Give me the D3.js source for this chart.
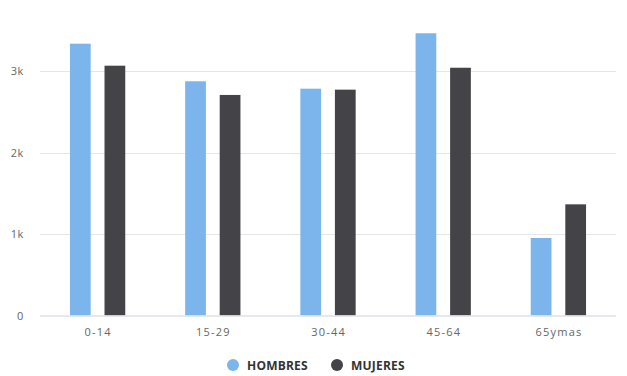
<!DOCTYPE html>
<html><head><meta charset="utf-8">
<script src="https://cdn.jsdelivr.net/npm/d3@7/dist/d3.min.js"></script>
<style>body{margin:0;background:#fff}svg{display:block}</style>
</head><body>
<svg id="c" width="627" height="376"></svg>
<script>
const categories = ["0-14","15-29","30-44","45-64","65ymas"];
const seriesNames = ["HOMBRES","MUJERES"];
const hombres = [3335, 2874, 2783, 3463, 951];
const mujeres = [3065, 2706, 2771, 3040, 1364];
const yTicks = [0, 1000, 2000, 3000];
const yTickLabels = ["0","1k","2k","3k"];
const colors = ["#7cb5ec", "#434348"];

const svg = d3.select("#c");
const font = "'Open Sans', sans-serif";
const L = 40, R = 616, B = 315.5;
const y = d3.scaleLinear().domain([0, 3500]).range([B, B - 3500 * 0.0815]);
const x0 = d3.scaleBand().domain(categories).range([L, R]).paddingInner(0).paddingOuter(0);
const bw = x0.bandwidth();
const x1 = d3.scaleBand().domain(seriesNames).range([0.2 * bw, 0.8 * bw]).paddingInner(0.4).paddingOuter(0.2);

// gridlines
svg.append("g").selectAll("line").data(yTicks.filter(d => d > 0)).join("line")
  .attr("x1", L).attr("x2", R).attr("y1", d => Math.round(y(d)) + 0.5).attr("y2", d => Math.round(y(d)) + 0.5)
  .attr("stroke", "#e6e6e6").attr("stroke-width", 1);

// y labels
svg.append("g").selectAll("text").data(yTicks).join("text")
  .attr("x", 24).attr("y", d => y(d) + 4)
  .attr("text-anchor", "end").attr("font-family", font).attr("font-size", 11).attr("fill", "#666")
  .attr("letter-spacing", "0.6px")
  .text((d, i) => yTickLabels[i]);

// bars
const data = [hombres, mujeres];
seriesNames.forEach((s, si) => {
  svg.append("g").selectAll("rect").data(data[si]).join("rect")
    .attr("x", (d, i) => x0(categories[i]) + x1(s))
    .attr("width", x1.bandwidth())
    .attr("y", d => y(d))
    .attr("height", d => B - y(d))
    .attr("fill", colors[si]);
});

// baseline
svg.append("line").attr("x1", L).attr("x2", R).attr("y1", B + 0.5).attr("y2", B + 0.5)
  .attr("stroke", "#dde2e8").attr("stroke-width", 1.5);

// x labels
svg.append("g").selectAll("text").data(categories).join("text")
  .attr("x", d => x0(d) + bw / 2 + 0.6).attr("y", 336)
  .attr("text-anchor", "middle").attr("font-family", font).attr("font-size", 11).attr("fill", "#666")
  .attr("letter-spacing", "1.2px")
  .text(d => d);

// legend
const legX = [233, 337];
const lg = svg.append("g").selectAll("g").data(seriesNames).join("g")
  .attr("transform", (d, i) => `translate(${legX[i]},365)`);
lg.append("circle").attr("r", 6).attr("fill", (d, i) => colors[i]);
lg.append("text").attr("x", 14).attr("y", 4.5).attr("font-family", font).attr("font-size", 12)
  .attr("font-weight", "bold").attr("fill", "#333").attr("letter-spacing", "0.2px").text(d => d);
</script>
</body></html>
